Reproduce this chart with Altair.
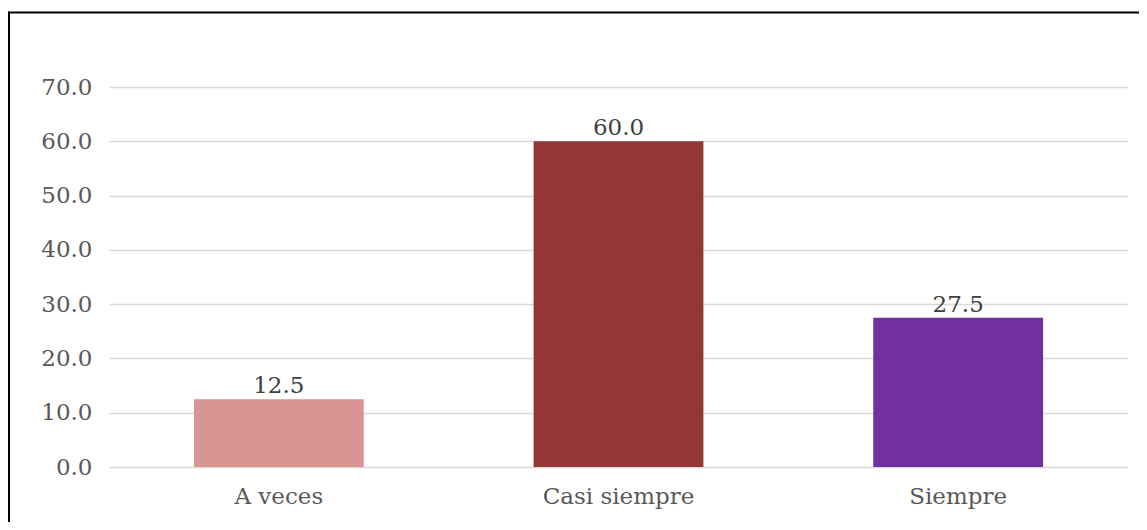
import altair as alt
import pandas as pd

categories = ["A veces", "Casi siempre", "Siempre"]
values = [12.5, 60.0, 27.5]
colors = ["#D99594", "#943634", "#7030A0"]
y_ticks = [0, 10, 20, 30, 40, 50, 60, 70]

df = pd.DataFrame({"cat": categories, "val": values, "color": colors})

FONT = "DejaVu Serif"
FS = 23
W, H = 1019, 380

x_enc = alt.X("cat:N", sort=categories,
              scale=alt.Scale(paddingInner=0.5, paddingOuter=0.25),
              axis=alt.Axis(title=None, labelAngle=0, ticks=False, domain=False,
                            labelPadding=18, labelFontSize=FS, labelColor="#595959",
                            labelFont=FONT))
y_enc = alt.Y("val:Q", scale=alt.Scale(domain=[0, 70], nice=False),
              axis=alt.Axis(title=None, values=y_ticks, format=".1f", ticks=False,
                            domain=False, labelPadding=17, labelFontSize=FS,
                            labelColor="#595959", labelFont=FONT,
                            gridColor="#d9d9d9", gridWidth=1.5))

bars = alt.Chart(df).mark_bar().encode(
    x=x_enc, y=y_enc,
    color=alt.Color("color:N", scale=None),
)

labels = alt.Chart(df).mark_text(
    baseline="alphabetic", dy=-6, fontSize=FS, font=FONT, color="#404040"
).encode(
    x=alt.X("cat:N", sort=categories),
    y="val:Q",
    text=alt.Text("val:Q", format=".1f"),
)

frame_data = alt.Data(values=[{"k": 1}])
left_border = alt.Chart(frame_data).mark_rule(color="black", strokeWidth=2).encode(
    x=alt.value(-100), y=alt.value(-75.5), y2=alt.value(470)
)
top_border = alt.Chart(frame_data).mark_rule(color="black", strokeWidth=2).encode(
    x=alt.value(-101), x2=alt.value(1040), y=alt.value(-74.5)
)

chart = alt.layer(bars, labels, left_border, top_border).properties(
    width=W, height=H,
    autosize=alt.AutoSizeParams(type="none"),
    padding={"left": 101, "top": 79, "right": 11, "bottom": 55},
).configure(font=FONT).configure_view(strokeWidth=0, stroke=None)

chart.save("out.html", embed_options={"renderer": "svg", "actions": False})
